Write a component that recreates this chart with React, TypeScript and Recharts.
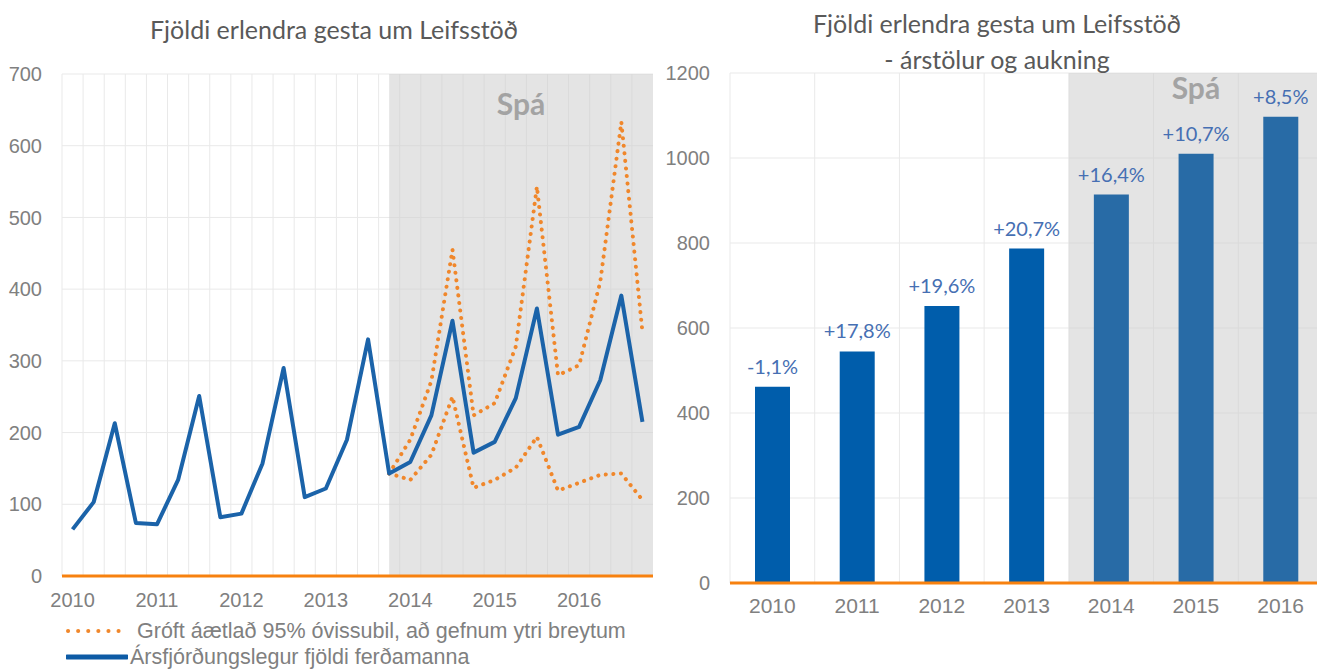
import {
  LineChart,
  Line,
  BarChart,
  Bar,
  Cell,
  LabelList,
  XAxis,
  YAxis,
  CartesianGrid,
  ReferenceArea,
} from "recharts";

// Ársfjórðungslegur fjöldi (þúsundir), 2010 Q1 - 2016 Q4
const years = ["2010", "2011", "2012", "2013", "2014", "2015", "2016"];
const quarterNames = ["Q1", "Q2", "Q3", "Q4"];
const quarters = years.flatMap((y) => quarterNames.map((q) => `${y} ${q}`));

const visitors = [
  65, 103, 213, 74, 72, 134, 251, 82, 87, 157, 290, 110, 122, 190, 330, 143,
  159, 224, 356, 172, 187, 248, 373, 197, 208, 273, 391, 215,
];
const upperBound = [
  null, null, null, null, null, null, null, null, null, null, null, null, null, null, null,
  143, 190, 272, 455, 224, 241, 320, 543, 280, 294, 410, 633, 340,
];
const lowerBound = [
  null, null, null, null, null, null, null, null, null, null, null, null, null, null, null,
  143, 134, 169, 250, 123, 134, 151, 194, 119, 130, 141, 143, 106,
];
const forecastStart = "2013 Q4";
const leftTicks = [0, 100, 200, 300, 400, 500, 600, 700];

// Árstölur og aukning
const annualYears = ["2010", "2011", "2012", "2013", "2014", "2015", "2016"];
const annualVisitors = [462, 545, 652, 787, 914, 1010, 1097];
const annualGrowth = ["-1,1%", "+17,8%", "+19,6%", "+20,7%", "+16,4%", "+10,7%", "+8,5%"];
const forecastYears = ["2014", "2015", "2016"];
const rightTicks = [0, 200, 400, 600, 800, 1000, 1200];

const lineData = quarters.map((q, i) => ({
  q,
  pos: i + 0.5,
  visitors: visitors[i],
  upper: upperBound[i],
  lower: lowerBound[i],
}));

const barData = annualYears.map((year, i) => ({
  year,
  value: annualVisitors[i],
  growth: annualGrowth[i],
}));

const ORANGE = "#f7810f";
const DOT_ORANGE = "#f0872b";
const BLUE = "#1b63a9";
const GRID = "#e9e9e9";
const TICK = "#808080";
const TITLE = "#595959";
const TITLE_FONT = "Lato, 'Open Sans', sans-serif";
const TICK_FONT = "'Liberation Sans', Arial, sans-serif";

const spaLabel = (offset: number) => ({
  value: "Spá",
  position: "insideTop" as const,
  offset,
  fill: "#a3a3a3",
  fontSize: 30,
  fontWeight: 700,
  fontFamily: TITLE_FONT,
});

function QuarterChart() {
  const startPos = quarters.indexOf(forecastStart) + 0.5;
  return (
    <LineChart
      width={660}
      height={669}
      data={lineData}
      margin={{ top: 74, right: 7, left: 0, bottom: 0 }}
    >
      <CartesianGrid
        stroke={GRID}
        verticalCoordinatesGenerator={({ offset }: any) =>
          quarters.map((_, i) => offset.left + (i * offset.width) / quarters.length)
        }
      />
      <ReferenceArea
        x1={startPos}
        x2={quarters.length}
        y1={0}
        y2={700}
        fill="#cdcdcd"
        fillOpacity={0.55}
        stroke="none"
        label={spaLabel(20)}
      />
      <XAxis
        type="number"
        dataKey="pos"
        domain={[0, quarters.length]}
        ticks={years.map((_, i) => i * 4 + 0.5)}
        tickFormatter={(v: number) => years[Math.floor(v / 4)]}
        height={93}
        tickSize={0}
        tickMargin={17}
        tickLine={false}
        axisLine={{ stroke: ORANGE, strokeWidth: 3 }}
        tick={{ fill: TICK, fontSize: 20, fontFamily: TICK_FONT }}
      />
      <YAxis
        domain={[0, 700]}
        ticks={leftTicks}
        width={62}
        tickSize={0}
        tickMargin={20}
        tickLine={false}
        axisLine={false}
        tick={{ fill: TICK, fontSize: 20, fontFamily: TICK_FONT }}
      />
      <Line
        dataKey="upper"
        stroke={DOT_ORANGE}
        strokeWidth={4}
        strokeDasharray="0.1 7.5"
        strokeLinecap="round"
        dot={false}
        isAnimationActive={false}
      />
      <Line
        dataKey="lower"
        stroke={DOT_ORANGE}
        strokeWidth={4}
        strokeDasharray="0.1 7.5"
        strokeLinecap="round"
        dot={false}
        isAnimationActive={false}
      />
      <Line
        dataKey="visitors"
        stroke={BLUE}
        strokeWidth={4}
        strokeLinejoin="round"
        dot={false}
        isAnimationActive={false}
      />
    </LineChart>
  );
}

function AnnualChart() {
  return (
    <BarChart
      width={670}
      height={669}
      data={barData}
      margin={{ top: 73, right: 7, left: 0, bottom: 0 }}
    >
      <CartesianGrid
        stroke={GRID}
        verticalCoordinatesGenerator={({ offset }: any) =>
          annualYears.map((_, i) => offset.left + (i * offset.width) / annualYears.length)
        }
      />
      <ReferenceArea
        x1={forecastYears[0]}
        y1={0}
        y2={1200}
        fill="#cdcdcd"
        fillOpacity={0.55}
        stroke="none"
        label={spaLabel(5)}
      />
      <XAxis
        dataKey="year"
        interval={0}
        height={86}
        tickSize={0}
        tickMargin={15}
        tickLine={false}
        axisLine={{ stroke: ORANGE, strokeWidth: 3 }}
        tick={{ fill: TICK, fontSize: 21, fontFamily: TICK_FONT }}
      />
      <YAxis
        domain={[0, 1200]}
        ticks={rightTicks}
        width={70}
        tickSize={0}
        tickMargin={20}
        tickLine={false}
        axisLine={false}
        tick={{ fill: TICK, fontSize: 20, fontFamily: TICK_FONT }}
      />
      <Bar dataKey="value" barSize={35} isAnimationActive={false}>
        {barData.map((d) => (
          <Cell
            key={d.year}
            fill={forecastYears.includes(d.year) ? "#286ba6" : "#005dab"}
          />
        ))}
        <LabelList
          dataKey="growth"
          position="top"
          offset={13}
          fill="#466fb3"
          fontSize={20}
          fontFamily={TITLE_FONT}
        />
      </Bar>
    </BarChart>
  );
}

function LegendRow({ dotted, label }: { dotted: boolean; label: string }) {
  return (
    <div style={{ display: "flex", alignItems: "center", height: 26 }}>
      <svg width={62} height={10} style={{ marginLeft: 66, marginRight: dotted ? 9 : 2 }}>
        {dotted ? (
          <line
            x1={2}
            y1={5}
            x2={60}
            y2={5}
            stroke={DOT_ORANGE}
            strokeWidth={4}
            strokeDasharray="0.1 10"
            strokeLinecap="round"
          />
        ) : (
          <line x1={1} y1={5} x2={61} y2={5} stroke="#0d5ba5" strokeWidth={5} strokeLinecap="round" />
        )}
      </svg>
      <span
        style={{
          fontFamily: TICK_FONT,
          fontSize: 21.5,
          lineHeight: "24px",
          color: TICK,
          whiteSpace: "nowrap",
        }}
      >
        {label}
      </span>
    </div>
  );
}

export default function App() {
  return (
    <div
      style={{
        position: "absolute",
        left: 0,
        top: 0,
        width: 1317,
        height: 669,
        overflow: "hidden",
        background: "#fff",
      }}
    >
      <div style={{ position: "absolute", left: 0, top: 0 }}>
        <QuarterChart />
      </div>
      <div style={{ position: "absolute", left: 660, top: 0 }}>
        <AnnualChart />
      </div>
      <div
        style={{
          position: "absolute",
          left: 134,
          top: 14,
          width: 400,
          textAlign: "center",
          fontFamily: TITLE_FONT,
          fontSize: 25,
          lineHeight: "30px",
          color: TITLE,
        }}
      >
        Fjöldi erlendra gesta um Leifsstöð
      </div>
      <div
        style={{
          position: "absolute",
          left: 797,
          top: 5,
          width: 400,
          textAlign: "center",
          fontFamily: TITLE_FONT,
          fontSize: 25,
          lineHeight: "36px",
          color: TITLE,
        }}
      >
        Fjöldi erlendra gesta um Leifsstöð
        <br />- árstölur og aukning
      </div>
      <div style={{ position: "absolute", left: 0, top: 618 }}>
        <LegendRow dotted label="Gróft áætlað 95% óvissubil, að gefnum ytri breytum" />
        <LegendRow dotted={false} label="Ársfjórðungslegur fjöldi ferðamanna" />
      </div>
    </div>
  );
}
